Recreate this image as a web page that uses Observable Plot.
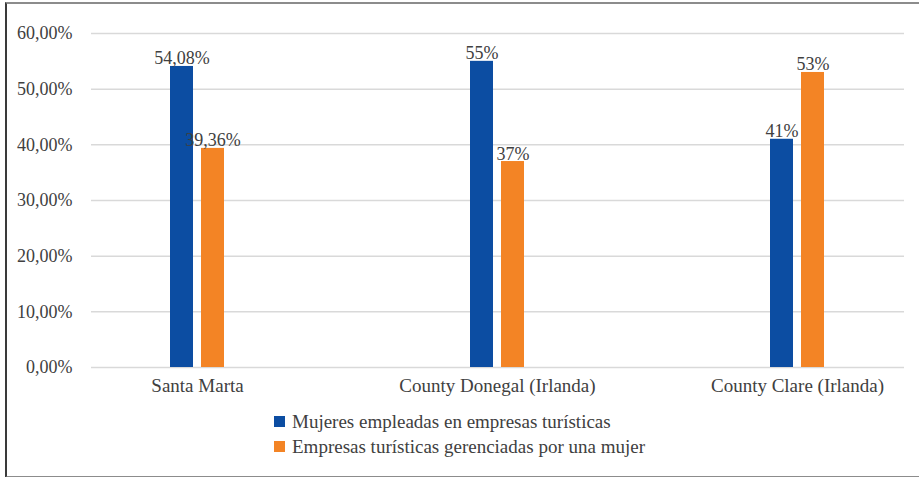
<!DOCTYPE html>
<html>
<head>
<meta charset="utf-8">
<script src="https://cdn.jsdelivr.net/npm/d3@7"></script>
<script src="https://cdn.jsdelivr.net/npm/@observablehq/plot@0.6"></script>
<style>
  html, body { margin: 0; padding: 0; background: #fff; }
  #wrap { position: relative; width: 919px; height: 477px; overflow: hidden; font-family: "Liberation Serif", serif; }
  #frame { position: absolute; left: 5px; top: 2px; width: 916px; height: 472px; border-top: 2px solid #8c8c8c; border-bottom: 2px solid #8c8c8c; border-left: 2px solid #3a3a3a; border-right: 2px solid #8c8c8c; }
  #chart { position: absolute; left: 0; top: 0; }
  #legend { position: absolute; left: 274px; top: 409px; color: #404040; font-size: 19px; }
  .item { display: flex; align-items: center; height: 25px; }
  .sw { width: 11px; height: 11px; margin-right: 7px; }
</style>
</head>
<body>
<div id="wrap">
  <div id="frame"></div>
  <div id="chart"></div>
  <div id="legend"></div>
</div>
<script>
const categories = ["Santa Marta", "County Donegal (Irlanda)", "County Clare (Irlanda)"];
const seriesNames = ["Mujeres empleadas en empresas turísticas", "Empresas turísticas gerenciadas por una mujer"];
const mujeresEmpleadas = [54.08, 55, 41];
const empresasGerenciadas = [39.36, 37, 53];
const labelsMujeres = ["54,08%", "55%", "41%"];
const labelsEmpresas = ["39,36%", "37%", "53%"];
const yTicks = [0, 10, 20, 30, 40, 50, 60];
const colors = ["#0c4da2", "#f38425"];

const rows = [];
categories.forEach((c, i) => {
  rows.push({cat: c, series: seriesNames[0], value: mujeresEmpleadas[i], label: labelsMujeres[i], s: 0});
  rows.push({cat: c, series: seriesNames[1], value: empresasGerenciadas[i], label: labelsEmpresas[i], s: 1});
});
const blue = rows.filter(d => d.s === 0);
const orange = rows.filter(d => d.s === 1);

const fmt = d => d.toFixed(2).replace(".", ",") + "%";

const chart = Plot.plot({
  width: 919,
  height: 405,
  marginLeft: 91,
  marginRight: 15,
  marginTop: 33,
  marginBottom: 38,
  style: { fontFamily: "'Liberation Serif', serif", fontSize: "18px", color: "#404040", background: "transparent" },
  x: { type: "band", domain: categories, range: [47, 947], padding: 0, label: null, tickSize: 0, tickPadding: 11 },
  y: { domain: [0, 60], ticks: yTicks, tickFormat: fmt, label: null, tickSize: 0, tickPadding: 19 },
  color: { domain: seriesNames, range: colors },
  marks: [
    Plot.ruleY(yTicks, { stroke: "#d9d9d9", strokeWidth: 1.5 }),
    Plot.barY(blue, { x: "cat", y: "value", fill: colors[0], insetLeft: 123, insetRight: 154 }),
    Plot.barY(orange, { x: "cat", y: "value", fill: colors[1], insetLeft: 154, insetRight: 123 }),
    Plot.text(blue, { x: "cat", y: "value", text: "label", dx: -15.5, dy: -2, lineAnchor: "bottom", fill: "#404040", fontSize: 18 }),
    Plot.text(orange, { x: "cat", y: "value", text: "label", dx: 15.5, dy: -2, lineAnchor: "bottom", fill: "#404040", fontSize: 18 })
  ]
});
chart.querySelectorAll('[aria-label="x-axis tick label"] text').forEach(t => t.setAttribute("font-size", "19"));
document.getElementById("chart").appendChild(chart);

const legend = document.getElementById("legend");
seriesNames.forEach((n, i) => {
  const item = document.createElement("div");
  item.className = "item";
  const sw = document.createElement("span");
  sw.className = "sw";
  sw.style.background = colors[i];
  const t = document.createElement("span");
  t.textContent = n;
  item.appendChild(sw);
  item.appendChild(t);
  legend.appendChild(item);
});
</script>
</body>
</html>
